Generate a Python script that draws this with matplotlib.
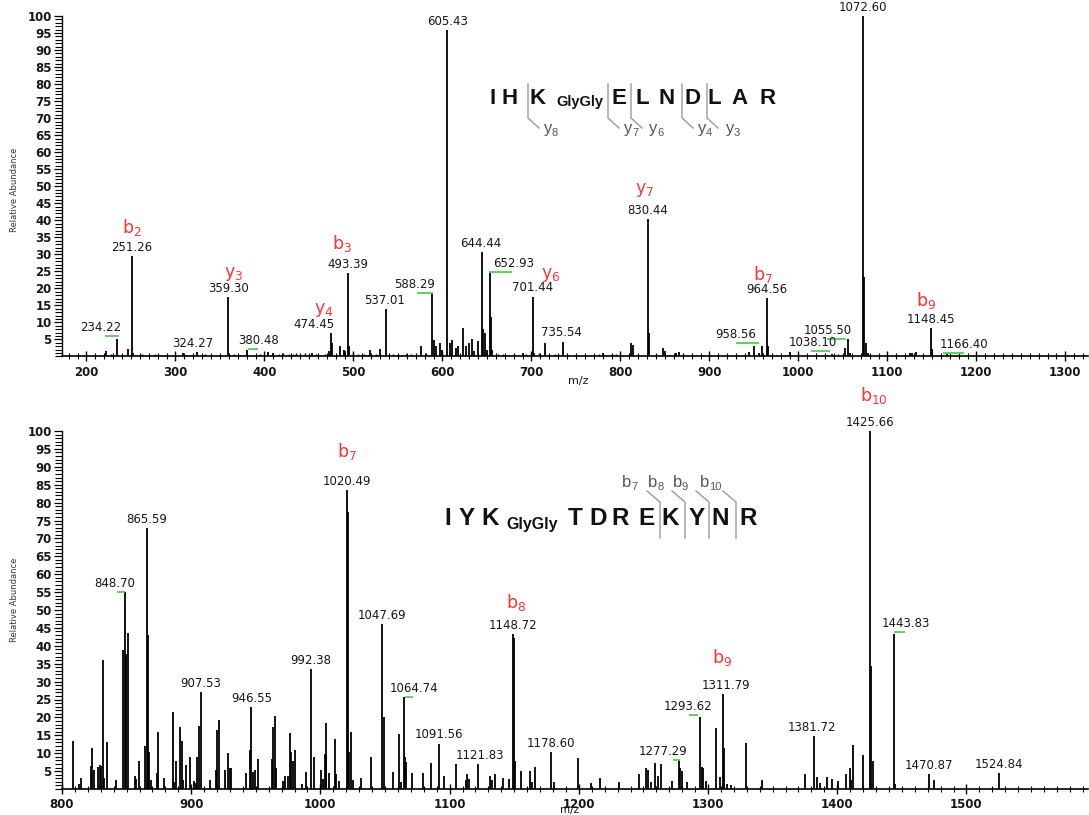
import matplotlib
matplotlib.use('Agg')
import matplotlib.pyplot as plt
from matplotlib.ticker import MultipleLocator

W, H = 1089, 815

# ---------------- data: top spectrum (IHK(GlyGly)ELNDLAR) ----------------
top_mz = [222, 234.22, 246.8, 251.26, 252.5, 308, 324.27, 359.30, 380.48, 404, 410, 453, 472,
          474.45, 476, 485, 489, 491, 493.39, 495, 519, 530, 537.01, 560, 575.7, 588.29, 590,
          593, 596.8, 600, 605.43, 608, 610.6, 615, 617, 623.3, 627, 630, 632.7, 636, 639.5,
          644.44, 646, 648, 650, 652.93, 654, 656, 690, 701.44, 703, 715.2, 735.54, 780, 811.6,
          814, 830.44, 832, 847.5, 850, 862, 866, 945, 949.6, 956, 958.56, 964.56, 966, 990.8,
          1038.10, 1052.7, 1055.50, 1058, 1072.60, 1073.5, 1075.6, 1078, 1125, 1128, 1132,
          1148.45, 1150, 1166.40]
top_int = [1.7, 5.0, 2.1, 29.5, 1.0, 0.9, 1.4, 17.5, 1.9, 1.4, 1.0, 1.0, 1.5,
           6.9, 4.0, 3.1, 2.0, 1.5, 24.4, 3.0, 1.9, 2.1, 13.9, 0.8, 3.1, 18.4, 4.9,
           3.0, 3.9, 1.9, 96.0, 3.9, 4.7, 2.5, 3.1, 8.3, 3.0, 4.0, 5.0, 1.5, 4.6,
           30.8, 8.2, 7.0, 2.0, 24.5, 11.7, 2.0, 1.0, 17.6, 1.0, 3.9, 4.4, 1.0, 3.9,
           3.4, 40.5, 6.8, 2.6, 1.5, 1.0, 1.4, 1.4, 3.1, 1.0, 3.1, 17.1, 3.1, 1.2,
           0.6, 2.4, 5.1, 1.0, 100.0, 23.3, 3.9, 1.0, 1.0, 1.0, 1.4,
           8.3, 2.1, 0.6]
top_noise_mz = [215, 228, 262, 270, 277, 283, 290, 296, 312, 318, 333, 340, 347, 366, 372, 388,
                395, 416, 421, 428, 432, 436, 440, 446, 458, 463, 468, 500, 505, 512, 516, 525,
                545, 550, 555, 565, 570, 582, 662, 668, 675, 680, 686, 694, 708, 720, 726, 742,
                750, 760, 770, 776, 785, 790, 795, 800, 820, 840, 855, 870, 885, 893, 900, 905,
                910, 920, 930, 938, 975, 985, 1000, 1010, 1020, 1028, 1045, 1090, 1100, 1110,
                1118, 1140, 1160, 1180, 1190]
top_noise_int = [0.4, 0.6, 0.8, 0.5, 0.7, 0.4, 0.6, 0.3, 0.5, 0.4, 0.6, 0.3, 0.5, 0.7, 0.4, 0.5,
                 0.8, 0.6, 0.9, 0.7, 0.8, 1.0, 0.6, 0.9, 0.7, 0.5, 0.8, 0.9, 0.6, 0.8, 0.5, 0.7,
                 0.6, 0.8, 0.5, 0.6, 0.4, 0.9, 0.7, 0.6, 0.5, 0.8, 0.4, 0.6, 0.9, 0.5, 0.7, 0.4,
                 0.6, 0.5, 0.4, 0.6, 0.5, 0.8, 0.6, 0.4, 0.5, 0.6, 0.5, 0.7, 0.4, 0.5, 0.6, 0.4,
                 0.5, 0.4, 0.6, 0.5, 0.4, 0.5, 0.6, 0.4, 0.5, 0.4, 0.6, 0.5, 0.4, 0.6,
                 0.4, 0.5, 0.4, 0.3, 0.4]
top_labels = [234.22, 251.26, 324.27, 359.30, 380.48, 474.45, 493.39, 537.01, 588.29, 605.43,
              644.44, 652.93, 701.44, 735.54, 830.44, 958.56, 964.56, 1038.10, 1055.50, 1072.60,
              1148.45, 1166.40]
top_label_dx = [-16, 0, -4, 0, 11, -17, 0, -2, -17, 0, -1, 24, 0, -2, 0, -26, 0, -20, -20, 0, 0, 17]
top_label_y = [6.0, 29.5, 1.4, 17.5, 2.2, 6.9, 24.4, 13.9, 18.7, 96.0, 30.8, 24.9, 17.6, 4.4,
               40.5, 3.9, 17.1, 1.6, 5.1, 100.0, 8.3, 1.0]
top_iso = [(220.8, 236.5, 6.0), (381.3, 392.5, 2.2), (571.0, 589.0, 18.7), (651.8, 678.7, 24.9),
           (930.0, 956.0, 3.9), (1014.0, 1035.6, 1.6), (1032.0, 1053.5, 5.1), (1162.5, 1186.0, 1.0)]
top_ions = [("b", "2", 251.26), ("y", "3", 359.30), ("y", "4", 474.45), ("b", "3", 493.39),
            ("y", "6", 701.44), ("y", "7", 830.44), ("b", "7", 964.56), ("b", "9", 1148.45)]
top_ion_off = [(0, 29), (5, 23), (-7, 23), (-6, 30), (18, 22), (-3, 29), (-4, 24), (-4, 28)]

# ---------------- data: bottom spectrum (IYK(GlyGly)TDREKYNR) ----------------
bot_mz = [800, 808.2, 813.5, 815, 822.4, 823.5, 825, 828, 829.5, 830.5, 831.4, 832.5, 835, 841.7,
          847.4, 848.70, 849.5, 850.8, 856.5, 857.5, 859.8, 864.2, 865.59, 866.4, 867.3, 868.5,
          873.2, 874.5, 878.9, 885.6, 887, 888.6, 891.2, 892.5, 894, 895.8, 898.9, 902.5, 903.5,
          904.6, 905.9, 907.53, 914.7, 918.9, 920.2, 921.5, 925.9, 928.5, 929.8, 931, 942.3,
          945.4, 946.55, 948, 949.5, 951.9, 962.2, 963.5, 964.8, 966, 970.7, 972.5, 975, 976.3,
          977.6, 979, 980.6, 986, 989.1, 992.38, 995, 1000.7, 1001.8, 1003.2, 1004, 1004.5,
          1006.8, 1011, 1012.3, 1014.6, 1020.49, 1021.2, 1022.3, 1023.6, 1025, 1031.2, 1039,
          1047.69, 1049.4, 1055.8, 1060.5, 1062, 1064.74, 1065.6, 1066.6, 1070.5, 1079.7, 1085.3,
          1091.56, 1095.7, 1104.7, 1112.5, 1113.8, 1115, 1121.83, 1131.6, 1132.8, 1135.4, 1141,
          1145.6, 1148.72, 1149.6, 1150.5, 1155.4, 1162.4, 1164, 1166, 1178.60, 1180.5, 1199.3,
          1209.6, 1216.3, 1231, 1246.4, 1252.1, 1253.2, 1255.5, 1258.6, 1261, 1263.3, 1272.4,
          1277.29, 1278, 1280, 1283.9, 1293.62, 1295, 1296, 1298.6, 1306.3, 1308.9, 1311.79,
          1312.7, 1315, 1318, 1329, 1341.6, 1375.4, 1381.72, 1384.5, 1387, 1392.4, 1396, 1400.7,
          1407, 1409.6, 1410.8, 1411.9, 1420.3, 1425.66, 1426.5, 1427.5, 1443.83, 1445, 1470.87,
          1474.9, 1524.84]
bot_int = [14.4, 13.5, 1.5, 3.0, 6.5, 11.5, 5.3, 6.2, 6.6, 6.4, 36.0, 3.0, 13.0, 2.6,
           38.8, 54.9, 37.6, 43.5, 3.6, 2.8, 7.8, 12.0, 72.8, 43.0, 10.2, 2.6,
           4.6, 15.8, 3.0, 21.6, 2.0, 7.8, 17.4, 13.4, 2.6, 6.6, 9.0, 2.2, 1.8,
           9.0, 17.6, 27.0, 2.4, 5.3, 16.4, 19.3, 5.3, 10.0, 5.8, 5.8, 4.5,
           10.8, 23.0, 4.8, 5.3, 8.3, 8.3, 17.2, 20.5, 5.8, 2.2, 3.6, 3.6, 15.6,
           10.2, 7.8, 10.8, 1.5, 4.8, 33.5, 9.0, 5.3, 2.8, 9.9, 9.9, 18.3,
           4.5, 14.0, 4.1, 2.2, 83.6, 77.3, 10.2, 16.0, 2.6, 3.2, 9.0,
           46.2, 20.1, 4.8, 15.3, 2.0, 25.6, 9.0, 7.5, 4.5, 4.5, 7.4,
           12.7, 3.5, 7.0, 2.4, 4.2, 2.9, 7.0, 3.6, 2.6, 4.1, 3.2,
           2.8, 43.3, 42.1, 7.7, 4.9, 4.9, 2.0, 6.2, 10.2, 2.0, 8.6,
           1.7, 3.2, 1.9, 4.1, 5.8, 5.4, 2.0, 7.4, 3.7, 7.0, 2.1,
           8.1, 5.8, 4.9, 2.0, 20.2, 6.2, 5.8, 2.1, 17.1, 3.3, 26.5,
           11.4, 1.4, 1.0, 12.8, 2.4, 4.1, 14.8, 3.3, 1.8, 3.3, 2.8, 2.1,
           4.2, 5.8, 2.4, 12.3, 9.5, 100.0, 34.4, 7.8, 43.3, 1.4, 4.1,
           2.4, 4.5]
bot_labels = [848.70, 865.59, 907.53, 946.55, 992.38, 1020.49, 1047.69, 1064.74, 1091.56, 1121.83,
              1148.72, 1178.60, 1277.29, 1293.62, 1311.79, 1381.72, 1425.66, 1443.83, 1470.87,
              1524.84]
bot_label_dx = [-10, 0, 0, 0, 0, 0, 0, 10, 0, 2, 0, 0, -16, -12, 3, -2, 0, 12, 0, 0]
bot_label_y = [54.9, 72.8, 27.0, 23.0, 33.5, 83.6, 46.2, 25.7, 12.7, 7.0, 43.3, 10.2, 8.1,
               20.7, 26.5, 14.8, 100.0, 43.9, 4.1, 4.5]
bot_iso = [(842.5, 848.7, 54.9), (1065.3, 1071.5, 25.7), (1272.5, 1278.0, 8.1),
           (1285.0, 1292.6, 20.7), (1444.0, 1452.7, 43.9)]
bot_ions = [("b", "7", 1020.49), ("b", "8", 1148.72), ("b", "9", 1311.79), ("b", "10", 1425.66)]
bot_ion_off = [(0, 38), (3, 31), (-1, 37), (4, 35)]
bot_ion_h = [83.6, 43.3, 26.5, 100.0]
top_ion_h = [29.5, 17.5, 6.9, 24.4, 17.6, 40.5, 17.1, 8.3]

# peptide sequences
top_seq = ["I", "H", "K", "E", "L", "N", "D", "L", "A", "R"]
top_seq_x = [493, 510, 538, 619, 642, 667, 692, 714, 740, 768]
top_frag = [("y", "8", 528, 548), ("y", "7", 608, 628), ("y", "6", 631, 653),
            ("y", "4", 682, 702), ("y", "3", 707, 730)]
bot_seq = ["I", "Y", "K", "T", "D", "R", "E", "K", "Y", "N", "R"]
bot_seq_x = [448, 467, 490, 575, 598, 620, 647, 670, 697, 720, 748]
bot_frag = [("b", "7", 660, 627), ("b", "8", 685, 653), ("b", "9", 709, 678), ("b", "10", 736, 705)]

# ---------------- figure ----------------
fig = plt.figure(figsize=(W / 100, H / 100), dpi=100)
fig.patch.set_facecolor('white')


def fx(x):
    return x / W


def fy(y):
    return 1 - y / H


TEXT_C = '#161616'
RED = '#ff3535'
GREEN = '#55cc55'
GREY = '#555555'


def setup_axes(ax, xlim, major, minor):
    ax.set_xlim(*xlim)
    ax.set_ylim(0, 100)
    for s in ['top', 'right']:
        ax.spines[s].set_visible(False)
    ax.spines['left'].set_linewidth(1.0)
    ax.spines['bottom'].set_linewidth(1.2)
    ax.yaxis.set_minor_locator(MultipleLocator(1))
    ax.set_yticks(range(5, 101, 5))
    ax.xaxis.set_major_locator(MultipleLocator(major))
    ax.xaxis.set_minor_locator(MultipleLocator(minor))
    ax.tick_params(axis='y', which='major', length=6, width=0.9, pad=1.5,
                   labelsize=8.5, labelcolor=TEXT_C)
    ax.tick_params(axis='y', which='minor', length=5, width=0.8)
    ax.tick_params(axis='x', which='major', direction='inout', length=7, width=1.0, pad=3,
                   labelsize=8.5, labelcolor=TEXT_C)
    ax.tick_params(axis='x', which='minor', direction='inout', length=4, width=0.8)
    for lab in ax.get_yticklabels() + ax.get_xticklabels():
        lab.set_fontweight('bold')
    ax.patch.set_alpha(0)


def draw_spectrum(ax, mz, inten, noise_mz=None, noise_int=None):
    ax.vlines(mz, 0, inten, color='black', linewidth=1.3)
    if noise_mz:
        ax.vlines(noise_mz, 0, noise_int, color='black', linewidth=1.0)


def draw_labels(ax, labels, ys, dxs):
    for m, yv, dx in zip(labels, ys, dxs):
        ax.annotate(f"{m:.2f}", xy=(m, yv), xytext=(dx * 0.72, 1.5), textcoords='offset points',
                    ha='center', va='bottom', fontsize=8.5, color=TEXT_C, annotation_clip=False)


def draw_iso(ax, iso):
    for a, b, yv in iso:
        ax.plot([a, b], [yv, yv], color=GREEN, linewidth=1.3, solid_capstyle='butt', clip_on=False)


def draw_ions(ax, ions, offs, hs):
    for (l, sub, m), (dx, dy), h in zip(ions, offs, hs):
        ax.annotate(r'$\mathregular{%s_{%s}}$' % (l, sub), xy=(m, h),
                    xytext=(dx * 0.72, dy * 0.72), textcoords='offset points',
                    ha='center', va='center', fontsize=12.5, color=RED, annotation_clip=False)


# top axes
ax1 = fig.add_axes([fx(62), fy(356.5), 1 - fx(62) - 0.001, (356.5 - 16) / H])
setup_axes(ax1, (172.5, 1325.3), 100, 10)
draw_spectrum(ax1, top_mz, top_int, top_noise_mz, top_noise_int)
draw_iso(ax1, top_iso)
draw_labels(ax1, top_labels, top_label_y, top_label_dx)
draw_ions(ax1, top_ions, top_ion_off, top_ion_h)

# bottom axes
ax2 = fig.add_axes([fx(62), fy(789), 1 - fx(62) - 0.001, (789 - 431) / H])
setup_axes(ax2, (800, 1594), 100, 10)
draw_spectrum(ax2, bot_mz, bot_int)
draw_iso(ax2, bot_iso)
draw_labels(ax2, bot_labels, bot_label_y, bot_label_dx)
draw_ions(ax2, bot_ions, bot_ion_off, bot_ion_h)

# axis titles
for yc in (190, 600):
    fig.text(fx(15), fy(yc), "Relative Abundance", rotation=90, ha='center', va='center',
             fontsize=6, color='#333344')
fig.text(fx(578), fy(381), "m/z", ha='center', va='center', fontsize=8, color=TEXT_C)
fig.text(fx(570), fy(810), "m/z", ha='center', va='center', fontsize=7.5, color=TEXT_C)

PEP_FONT = 'Liberation Sans'

# top peptide
for ch, x in zip(top_seq, top_seq_x):
    fig.text(fx(x), fy(104), ch, ha='center', va='baseline', fontsize=16,
             fontweight='bold', family=PEP_FONT, color='#111111')
fig.text(fx(580), fy(106), "GlyGly", ha='center', va='baseline', fontsize=10.5,
         fontweight='bold', family=PEP_FONT, color='#111111')
for l, sub, xv, xl in top_frag:
    fig.add_artist(plt.Line2D([fx(xv), fx(xv), fx(xv + 11)], [fy(84), fy(118), fy(128)],
                              color='#9a9a9a', linewidth=1.0))
    fig.text(fx(xl), fy(133), l, ha='center', va='baseline', fontsize=12, family=PEP_FONT, color=GREY)
    fig.text(fx(xl + 4), fy(136), sub, ha='left', va='baseline', fontsize=8, family=PEP_FONT, color=GREY)

# bottom peptide
for ch, x in zip(bot_seq, bot_seq_x):
    fig.text(fx(x), fy(525), ch, ha='center', va='baseline', fontsize=17.5,
             fontweight='bold', family=PEP_FONT, color='#111111')
fig.text(fx(532), fy(529), "GlyGly", ha='center', va='baseline', fontsize=11.5,
         fontweight='bold', family=PEP_FONT, color='#111111')
for l, sub, xv, xl in bot_frag:
    fig.add_artist(plt.Line2D([fx(xv), fx(xv), fx(xv - 13)], [fy(538), fy(502), fy(491)],
                              color='#9a9a9a', linewidth=1.0))
    fig.text(fx(xl), fy(487), l, ha='center', va='baseline', fontsize=12, family=PEP_FONT, color=GREY)
    fig.text(fx(xl + 4), fy(490), sub, ha='left', va='baseline', fontsize=8, family=PEP_FONT, color=GREY)

fig.savefig('out.png', dpi=100, facecolor='white')
